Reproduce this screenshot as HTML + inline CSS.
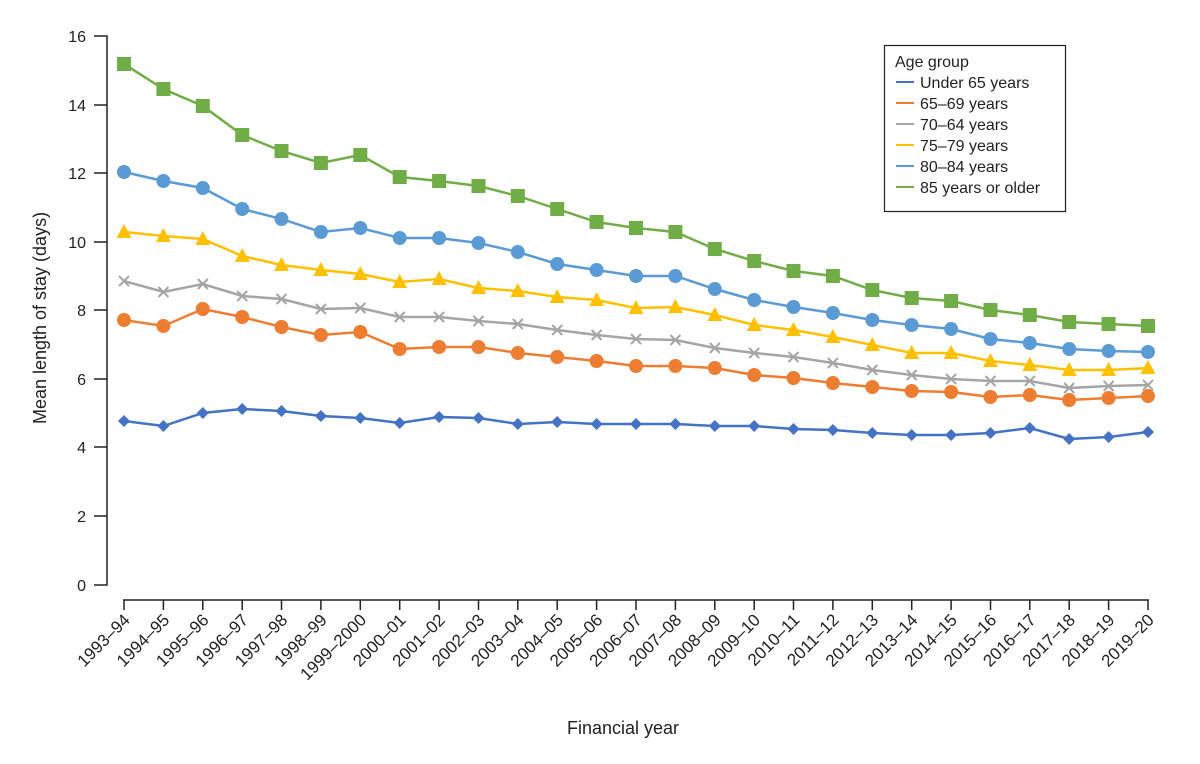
<!DOCTYPE html>
<html><head><meta charset="utf-8"><style>
html,body{margin:0;padding:0;background:#fff;}
svg{display:block;font-family:"Liberation Sans",sans-serif;}
</style></head><body>
<svg width="1200" height="764" viewBox="0 0 1200 764" xmlns="http://www.w3.org/2000/svg" xmlns:xlink="http://www.w3.org/1999/xlink">
<defs>
<circle id="mc" cx="0" cy="0" r="7"/>
<rect id="ms" x="-7" y="-7" width="14" height="14"/>
<path id="mt" d="M0,-8L7.5,6L-7.5,6Z"/>
<path id="md" d="M0,-6L6,0L0,6L-6,0Z"/>
<path id="mx" d="M-5,-5L5,5M5,-5L-5,5" stroke-width="2"/>
</defs>
<g stroke="#222" stroke-width="1.5" fill="none">
<path d="M94,36H107V585H94"/>
<path d="M94,516H107M94,447H107M94,379H107M94,310H107M94,242H107M94,173H107M94,105H107"/>
<path d="M123,600H1149"/>
<path d="M124,600v10M163.4,600v10M202.8,600v10M242.2,600v10M281.5,600v10M320.9,600v10M360.3,600v10M399.7,600v10M439.1,600v10M478.5,600v10M517.8,600v10M557.2,600v10M596.6,600v10M636,600v10M675.4,600v10M714.8,600v10M754.2,600v10M793.5,600v10M832.9,600v10M872.3,600v10M911.7,600v10M951.1,600v10M990.5,600v10M1029.8,600v10M1069.2,600v10M1108.6,600v10M1148,600v10"/>
</g>
<g font-size="16" fill="#222" text-anchor="end">
<text x="86" y="42">16</text><text x="86" y="111">14</text><text x="86" y="179">12</text>
<text x="86" y="248">10</text><text x="86" y="316">8</text><text x="86" y="385">6</text>
<text x="86" y="453">4</text><text x="86" y="522">2</text><text x="86" y="591">0</text>
</g>
<g font-size="17" fill="#222" text-anchor="end">
<text transform="translate(131,621) rotate(-45)">1993–94</text>
<text transform="translate(170.4,621) rotate(-45)">1994–95</text>
<text transform="translate(209.8,621) rotate(-45)">1995–96</text>
<text transform="translate(249.2,621) rotate(-45)">1996–97</text>
<text transform="translate(288.5,621) rotate(-45)">1997–98</text>
<text transform="translate(327.9,621) rotate(-45)">1998–99</text>
<text transform="translate(367.3,621) rotate(-45)">1999–2000</text>
<text transform="translate(406.7,621) rotate(-45)">2000–01</text>
<text transform="translate(446.1,621) rotate(-45)">2001–02</text>
<text transform="translate(485.5,621) rotate(-45)">2002–03</text>
<text transform="translate(524.8,621) rotate(-45)">2003–04</text>
<text transform="translate(564.2,621) rotate(-45)">2004–05</text>
<text transform="translate(603.6,621) rotate(-45)">2005–06</text>
<text transform="translate(643,621) rotate(-45)">2006–07</text>
<text transform="translate(682.4,621) rotate(-45)">2007–08</text>
<text transform="translate(721.8,621) rotate(-45)">2008–09</text>
<text transform="translate(761.2,621) rotate(-45)">2009–10</text>
<text transform="translate(800.5,621) rotate(-45)">2010–11</text>
<text transform="translate(839.9,621) rotate(-45)">2011–12</text>
<text transform="translate(879.3,621) rotate(-45)">2012–13</text>
<text transform="translate(918.7,621) rotate(-45)">2013–14</text>
<text transform="translate(958.1,621) rotate(-45)">2014–15</text>
<text transform="translate(997.5,621) rotate(-45)">2015–16</text>
<text transform="translate(1036.8,621) rotate(-45)">2016–17</text>
<text transform="translate(1076.2,621) rotate(-45)">2017–18</text>
<text transform="translate(1115.6,621) rotate(-45)">2018–19</text>
<text transform="translate(1155,621) rotate(-45)">2019–20</text>
</g>
<text transform="translate(46,318) rotate(-90)" font-size="18" fill="#222" text-anchor="middle">Mean length of stay (days)</text>
<text x="623" y="734" font-size="18" fill="#222" text-anchor="middle">Financial year</text>

<g fill="none" stroke-width="2.5">
<polyline stroke="#4472c4" points="124,421 163.4,426 202.8,413 242.2,409 281.5,411 320.9,416 360.3,418 399.7,423 439.1,417 478.5,418 517.8,424 557.2,422 596.6,424 636,424 675.4,424 714.8,426 754.2,426 793.5,429 832.9,430 872.3,433 911.7,435 951.1,435 990.5,433 1029.8,428 1069.2,439 1108.6,437 1148,432"/>
<polyline stroke="#ed7d31" points="124,320 163.4,326 202.8,309 242.2,317 281.5,327 320.9,335 360.3,332 399.7,349 439.1,347 478.5,347 517.8,353 557.2,357 596.6,361 636,366 675.4,366 714.8,368 754.2,375 793.5,378 832.9,383 872.3,387 911.7,391 951.1,392 990.5,397 1029.8,395 1069.2,400 1108.6,398 1148,396"/>
<polyline stroke="#a5a5a5" points="124,281 163.4,292 202.8,284 242.2,296 281.5,299 320.9,309 360.3,308 399.7,317 439.1,317 478.5,321 517.8,324 557.2,330 596.6,335 636,339 675.4,340 714.8,348 754.2,353 793.5,357 832.9,363 872.3,370 911.7,375 951.1,379 990.5,381 1029.8,381 1069.2,388 1108.6,386 1148,385"/>
<polyline stroke="#ffc000" points="124,232 163.4,236 202.8,239 242.2,256 281.5,265 320.9,270 360.3,274 399.7,282 439.1,279 478.5,288 517.8,291 557.2,297 596.6,300 636,308 675.4,307 714.8,315 754.2,325 793.5,330 832.9,337 872.3,345 911.7,353 951.1,353 990.5,361 1029.8,365 1069.2,370 1108.6,370 1148,368"/>
<polyline stroke="#5b9bd5" points="124,172 163.4,181 202.8,188 242.2,209 281.5,219 320.9,232 360.3,228 399.7,238 439.1,238 478.5,243 517.8,252 557.2,264 596.6,270 636,276 675.4,276 714.8,289 754.2,300 793.5,307 832.9,313 872.3,320 911.7,325 951.1,329 990.5,339 1029.8,343 1069.2,349 1108.6,351 1148,352"/>
<polyline stroke="#70ad47" points="124,64 163.4,89 202.8,106 242.2,135 281.5,151 320.9,163 360.3,155 399.7,177 439.1,181 478.5,186 517.8,196 557.2,209 596.6,222 636,228 675.4,232 714.8,249 754.2,261 793.5,271 832.9,276 872.3,290 911.7,298 951.1,301 990.5,310 1029.8,315 1069.2,322 1108.6,324 1148,326"/>
</g>
<g fill="#4472c4">
<use xlink:href="#md" x="124" y="421"/><use xlink:href="#md" x="163.4" y="426"/><use xlink:href="#md" x="202.8" y="413"/><use xlink:href="#md" x="242.2" y="409"/><use xlink:href="#md" x="281.5" y="411"/><use xlink:href="#md" x="320.9" y="416"/><use xlink:href="#md" x="360.3" y="418"/><use xlink:href="#md" x="399.7" y="423"/><use xlink:href="#md" x="439.1" y="417"/><use xlink:href="#md" x="478.5" y="418"/><use xlink:href="#md" x="517.8" y="424"/><use xlink:href="#md" x="557.2" y="422"/><use xlink:href="#md" x="596.6" y="424"/><use xlink:href="#md" x="636" y="424"/><use xlink:href="#md" x="675.4" y="424"/><use xlink:href="#md" x="714.8" y="426"/><use xlink:href="#md" x="754.2" y="426"/><use xlink:href="#md" x="793.5" y="429"/><use xlink:href="#md" x="832.9" y="430"/><use xlink:href="#md" x="872.3" y="433"/><use xlink:href="#md" x="911.7" y="435"/><use xlink:href="#md" x="951.1" y="435"/><use xlink:href="#md" x="990.5" y="433"/><use xlink:href="#md" x="1029.8" y="428"/><use xlink:href="#md" x="1069.2" y="439"/><use xlink:href="#md" x="1108.6" y="437"/><use xlink:href="#md" x="1148" y="432"/>
</g>
<g fill="#ed7d31">
<use xlink:href="#mc" x="124" y="320"/><use xlink:href="#mc" x="163.4" y="326"/><use xlink:href="#mc" x="202.8" y="309"/><use xlink:href="#mc" x="242.2" y="317"/><use xlink:href="#mc" x="281.5" y="327"/><use xlink:href="#mc" x="320.9" y="335"/><use xlink:href="#mc" x="360.3" y="332"/><use xlink:href="#mc" x="399.7" y="349"/><use xlink:href="#mc" x="439.1" y="347"/><use xlink:href="#mc" x="478.5" y="347"/><use xlink:href="#mc" x="517.8" y="353"/><use xlink:href="#mc" x="557.2" y="357"/><use xlink:href="#mc" x="596.6" y="361"/><use xlink:href="#mc" x="636" y="366"/><use xlink:href="#mc" x="675.4" y="366"/><use xlink:href="#mc" x="714.8" y="368"/><use xlink:href="#mc" x="754.2" y="375"/><use xlink:href="#mc" x="793.5" y="378"/><use xlink:href="#mc" x="832.9" y="383"/><use xlink:href="#mc" x="872.3" y="387"/><use xlink:href="#mc" x="911.7" y="391"/><use xlink:href="#mc" x="951.1" y="392"/><use xlink:href="#mc" x="990.5" y="397"/><use xlink:href="#mc" x="1029.8" y="395"/><use xlink:href="#mc" x="1069.2" y="400"/><use xlink:href="#mc" x="1108.6" y="398"/><use xlink:href="#mc" x="1148" y="396"/>
</g>
<g stroke="#a5a5a5" fill="none">
<use xlink:href="#mx" x="124" y="281"/><use xlink:href="#mx" x="163.4" y="292"/><use xlink:href="#mx" x="202.8" y="284"/><use xlink:href="#mx" x="242.2" y="296"/><use xlink:href="#mx" x="281.5" y="299"/><use xlink:href="#mx" x="320.9" y="309"/><use xlink:href="#mx" x="360.3" y="308"/><use xlink:href="#mx" x="399.7" y="317"/><use xlink:href="#mx" x="439.1" y="317"/><use xlink:href="#mx" x="478.5" y="321"/><use xlink:href="#mx" x="517.8" y="324"/><use xlink:href="#mx" x="557.2" y="330"/><use xlink:href="#mx" x="596.6" y="335"/><use xlink:href="#mx" x="636" y="339"/><use xlink:href="#mx" x="675.4" y="340"/><use xlink:href="#mx" x="714.8" y="348"/><use xlink:href="#mx" x="754.2" y="353"/><use xlink:href="#mx" x="793.5" y="357"/><use xlink:href="#mx" x="832.9" y="363"/><use xlink:href="#mx" x="872.3" y="370"/><use xlink:href="#mx" x="911.7" y="375"/><use xlink:href="#mx" x="951.1" y="379"/><use xlink:href="#mx" x="990.5" y="381"/><use xlink:href="#mx" x="1029.8" y="381"/><use xlink:href="#mx" x="1069.2" y="388"/><use xlink:href="#mx" x="1108.6" y="386"/><use xlink:href="#mx" x="1148" y="385"/>
</g>
<g fill="#ffc000">
<use xlink:href="#mt" x="124" y="232"/><use xlink:href="#mt" x="163.4" y="236"/><use xlink:href="#mt" x="202.8" y="239"/><use xlink:href="#mt" x="242.2" y="256"/><use xlink:href="#mt" x="281.5" y="265"/><use xlink:href="#mt" x="320.9" y="270"/><use xlink:href="#mt" x="360.3" y="274"/><use xlink:href="#mt" x="399.7" y="282"/><use xlink:href="#mt" x="439.1" y="279"/><use xlink:href="#mt" x="478.5" y="288"/><use xlink:href="#mt" x="517.8" y="291"/><use xlink:href="#mt" x="557.2" y="297"/><use xlink:href="#mt" x="596.6" y="300"/><use xlink:href="#mt" x="636" y="308"/><use xlink:href="#mt" x="675.4" y="307"/><use xlink:href="#mt" x="714.8" y="315"/><use xlink:href="#mt" x="754.2" y="325"/><use xlink:href="#mt" x="793.5" y="330"/><use xlink:href="#mt" x="832.9" y="337"/><use xlink:href="#mt" x="872.3" y="345"/><use xlink:href="#mt" x="911.7" y="353"/><use xlink:href="#mt" x="951.1" y="353"/><use xlink:href="#mt" x="990.5" y="361"/><use xlink:href="#mt" x="1029.8" y="365"/><use xlink:href="#mt" x="1069.2" y="370"/><use xlink:href="#mt" x="1108.6" y="370"/><use xlink:href="#mt" x="1148" y="368"/>
</g>
<g fill="#5b9bd5">
<use xlink:href="#mc" x="124" y="172"/><use xlink:href="#mc" x="163.4" y="181"/><use xlink:href="#mc" x="202.8" y="188"/><use xlink:href="#mc" x="242.2" y="209"/><use xlink:href="#mc" x="281.5" y="219"/><use xlink:href="#mc" x="320.9" y="232"/><use xlink:href="#mc" x="360.3" y="228"/><use xlink:href="#mc" x="399.7" y="238"/><use xlink:href="#mc" x="439.1" y="238"/><use xlink:href="#mc" x="478.5" y="243"/><use xlink:href="#mc" x="517.8" y="252"/><use xlink:href="#mc" x="557.2" y="264"/><use xlink:href="#mc" x="596.6" y="270"/><use xlink:href="#mc" x="636" y="276"/><use xlink:href="#mc" x="675.4" y="276"/><use xlink:href="#mc" x="714.8" y="289"/><use xlink:href="#mc" x="754.2" y="300"/><use xlink:href="#mc" x="793.5" y="307"/><use xlink:href="#mc" x="832.9" y="313"/><use xlink:href="#mc" x="872.3" y="320"/><use xlink:href="#mc" x="911.7" y="325"/><use xlink:href="#mc" x="951.1" y="329"/><use xlink:href="#mc" x="990.5" y="339"/><use xlink:href="#mc" x="1029.8" y="343"/><use xlink:href="#mc" x="1069.2" y="349"/><use xlink:href="#mc" x="1108.6" y="351"/><use xlink:href="#mc" x="1148" y="352"/>
</g>
<g fill="#70ad47">
<use xlink:href="#ms" x="124" y="64"/><use xlink:href="#ms" x="163.4" y="89"/><use xlink:href="#ms" x="202.8" y="106"/><use xlink:href="#ms" x="242.2" y="135"/><use xlink:href="#ms" x="281.5" y="151"/><use xlink:href="#ms" x="320.9" y="163"/><use xlink:href="#ms" x="360.3" y="155"/><use xlink:href="#ms" x="399.7" y="177"/><use xlink:href="#ms" x="439.1" y="181"/><use xlink:href="#ms" x="478.5" y="186"/><use xlink:href="#ms" x="517.8" y="196"/><use xlink:href="#ms" x="557.2" y="209"/><use xlink:href="#ms" x="596.6" y="222"/><use xlink:href="#ms" x="636" y="228"/><use xlink:href="#ms" x="675.4" y="232"/><use xlink:href="#ms" x="714.8" y="249"/><use xlink:href="#ms" x="754.2" y="261"/><use xlink:href="#ms" x="793.5" y="271"/><use xlink:href="#ms" x="832.9" y="276"/><use xlink:href="#ms" x="872.3" y="290"/><use xlink:href="#ms" x="911.7" y="298"/><use xlink:href="#ms" x="951.1" y="301"/><use xlink:href="#ms" x="990.5" y="310"/><use xlink:href="#ms" x="1029.8" y="315"/><use xlink:href="#ms" x="1069.2" y="322"/><use xlink:href="#ms" x="1108.6" y="324"/><use xlink:href="#ms" x="1148" y="326"/>
</g>

<rect x="884.5" y="45.5" width="181" height="166" fill="#fff" stroke="#222" stroke-width="1.2"/>
<g font-size="16" fill="#222">
<text x="895" y="67">Age group</text>
<text x="920" y="88">Under 65 years</text>
<text x="920" y="109">65–69 years</text>
<text x="920" y="130">70–64 years</text>
<text x="920" y="151">75–79 years</text>
<text x="920" y="172">80–84 years</text>
<text x="920" y="193">85 years or older</text>
</g>
<g stroke-width="2">
<path d="M896,82H914" stroke="#4472c4"/><path d="M896,103H914" stroke="#ed7d31"/>
<path d="M896,124H914" stroke="#a5a5a5"/><path d="M896,145H914" stroke="#ffc000"/>
<path d="M896,166H914" stroke="#5b9bd5"/><path d="M896,187H914" stroke="#70ad47"/>
</g>
</svg>
</body></html>
